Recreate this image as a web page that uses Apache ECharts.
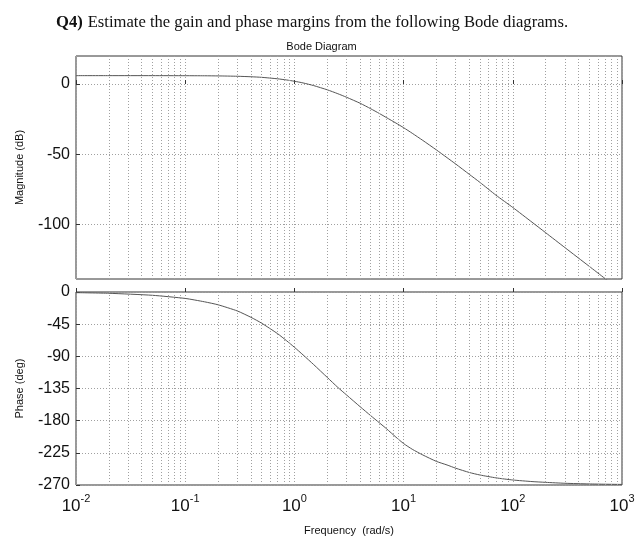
<!DOCTYPE html>
<html><head><meta charset="utf-8">
<script src="https://cdn.jsdelivr.net/npm/echarts@6/dist/echarts.min.js"></script>
<style>html,body{margin:0;padding:0;background:#fff}#c{width:643px;height:544px}</style>
</head><body><div id="c"></div>
<script>
const freq = [0.01,0.02,0.05,0.1,0.15,0.2,0.3,0.4,0.5,0.7,0.85,1,1.2,1.5,2,2.5,3,4,5,6,7,8.5,10,12,15,20,25,30,40,50,70,100,150,200,300,500,700,1000];
// Magnitude (dB)
const magDb = [6.0,6.0,6.0,5.95,5.9,5.8,5.55,5.2,4.8,3.75,2.9,2.0,0.8,-1.1,-4.1,-6.9,-9.4,-13.7,-17.6,-21.0,-24.0,-27.8,-31.1,-35.1,-40.2,-47.0,-52.5,-57.0,-64.4,-70.1,-79.2,-88.0,-98.5,-106.0,-116.6,-129.9,-138.7,-148.0];
// Phase (deg)
const phaseDeg = [-0.9,-1.8,-4.6,-9.0,-13.7,-17.9,-26.5,-35.4,-43.5,-58.2,-68.3,-77.3,-88.0,-101.5,-119.5,-133.5,-144.0,-160.5,-173.0,-183.0,-191.5,-203.0,-212.0,-220.0,-228.0,-237.0,-242.0,-246.5,-252.5,-256.0,-260.0,-263.0,-265.2,-266.3,-267.6,-268.5,-268.9,-269.2];
// Tick labels
const magTicks = [0,-50,-100];
const phaseTicks = [0,-45,-90,-135,-180,-225,-270];

const titleText = 'Estimate the gain and phase margins from the following Bode diagrams.';
const plotTitle = 'Bode Diagram';

// minor grid positions 2..9 × each decade
const minorX = [];
for (let e = -2; e < 3; e++) for (let k = 2; k <= 9; k++) minorX.push({xAxis: k * Math.pow(10, e)});

const gridLine = {color:'#a0a0a0', type:[1,2], width:1};
const minorLines = {
  silent:true, symbol:['none','none'], animation:false,
  label:{show:false}, lineStyle:gridLine, emphasis:{disabled:true},
  data:minorX
};
const sans = 'Liberation Sans';
const chart = echarts.init(document.getElementById('c'), null, {renderer:'canvas'});
chart.setOption({
  animation:false,
  backgroundColor:'#fff',
  title:[
    {text:'{q|Q4)} {t|' + titleText + '}', left:51, top:9,
     textStyle:{fontWeight:'normal',
       rich:{q:{fontFamily:'Liberation Serif',fontWeight:'bold',fontSize:16.6,color:'#111'},
             t:{fontFamily:'Liberation Serif',fontWeight:'normal',fontSize:16.6,color:'#111'}}}},
    {text:plotTitle, left:'center', top:36, textStyle:{fontFamily:sans,fontSize:11,fontWeight:'normal',color:'#111'}}
  ],
  grid:[
    {left:76, top:56, width:546, height:223, show:true, borderColor:'#333', borderWidth:1, backgroundColor:'transparent'},
    {left:76, top:292, width:546, height:193, show:true, borderColor:'#333', borderWidth:1, backgroundColor:'transparent'}
  ],
  xAxis:[
    {type:'log', logBase:10, gridIndex:0, min:0.01, max:1000,
     axisLine:{show:false}, axisTick:{show:true, inside:true, length:4, lineStyle:{color:'#333'}},
     axisLabel:{show:false}, splitLine:{show:true, lineStyle:gridLine}},
    {type:'log', logBase:10, gridIndex:1, min:0.01, max:1000,
     name:'Frequency  (rad/s)', nameLocation:'middle', nameGap:40,
     nameTextStyle:{fontFamily:sans, fontSize:11, color:'#111'},
     axisLine:{show:false}, axisTick:{show:true, inside:true, length:4, lineStyle:{color:'#333'}},
     axisLabel:{show:true, margin:8, color:'#111',
       formatter:function(v){const e=Math.round(Math.log10(v)); return '{b|10}{s|'+e+'}';},
       rich:{b:{fontFamily:sans,fontSize:17,color:'#111',lineHeight:22,verticalAlign:'bottom'},
             s:{fontFamily:sans,fontSize:11,color:'#111',lineHeight:22,verticalAlign:'top'}}},
     splitLine:{show:true, lineStyle:gridLine}}
  ],
  yAxis:[
    {type:'value', gridIndex:0, min:-139, max:20,
     name:'Magnitude (dB)', nameLocation:'middle', nameGap:51, nameRotate:90,
     nameTextStyle:{fontFamily:sans, fontSize:11, color:'#111'},
     axisLine:{show:false},
     axisTick:{show:true, inside:true, length:4, customValues:magTicks, lineStyle:{color:'#333'}},
     axisLabel:{show:true, customValues:magTicks, fontFamily:sans, fontSize:16, color:'#111', margin:6},
     splitLine:{show:true, lineStyle:gridLine}},
    {type:'value', gridIndex:1, min:-270, max:0, interval:45,
     name:'Phase (deg)', nameLocation:'middle', nameGap:51, nameRotate:90,
     nameTextStyle:{fontFamily:sans, fontSize:11, color:'#111'},
     axisLine:{show:false},
     axisTick:{show:true, inside:true, length:4, customValues:phaseTicks, lineStyle:{color:'#333'}},
     axisLabel:{show:true, customValues:phaseTicks, fontFamily:sans, fontSize:16, color:'#111', margin:6},
     splitLine:{show:true, lineStyle:gridLine}}
  ],
  series:[
    {type:'line', xAxisIndex:0, yAxisIndex:0, showSymbol:false, smooth:0.2, clip:true,
     lineStyle:{color:'#555', width:1}, data:freq.map((f,i)=>[f,magDb[i]]), markLine:minorLines, z:3},
    {type:'line', xAxisIndex:1, yAxisIndex:1, showSymbol:false, smooth:0.2, clip:true,
     lineStyle:{color:'#555', width:1}, data:freq.map((f,i)=>[f,phaseDeg[i]]), markLine:minorLines, z:3}
  ]
});
</script></body></html>
